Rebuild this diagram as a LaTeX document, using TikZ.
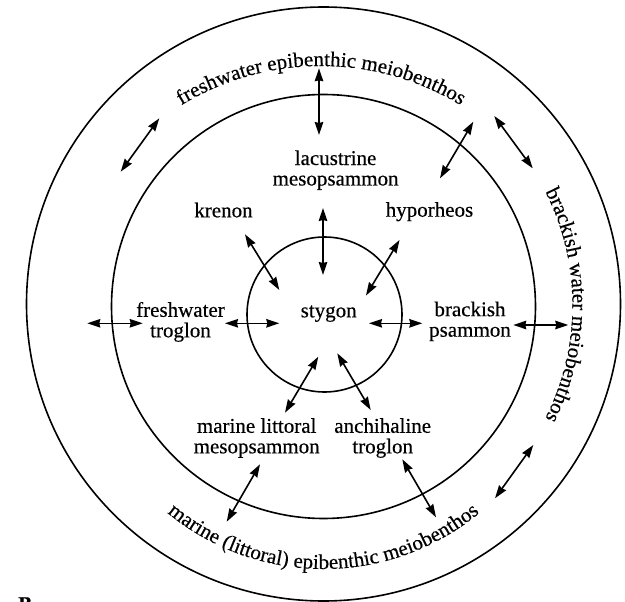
\documentclass[tikz,border=0pt]{standalone}
\usepackage{fontspec}
\setmainfont{Liberation Serif}[FakeBold=0.4]
\usetikzlibrary{arrows.meta,decorations.text,calc}
\begin{document}
\begin{tikzpicture}[x=1pt,y=1pt,
  ring/.style={line width=1.6pt},
  biarrow/.style={line width=1.6pt,
    {Stealth[length=13pt,width=8.5pt,inset=1pt]}-{Stealth[length=13pt,width=8.5pt,inset=1pt]}},
  lbl/.style={font=\fontsize{21}{20.5}\selectfont, align=center, anchor=base, inner sep=0pt},
  arctext/.style={decorate, decoration={text along path, text align=center,
    text={|\fontsize{21}{21}\selectfont|#1}}}
  ]
\useasboundingbox (0,0) rectangle (625,-602);
\fill[white] (0,0) rectangle (625,-602);

% rings
\coordinate (co) at (323.5,-304);
\coordinate (cm) at (323.5,-306.5);
\coordinate (ci) at (324.5,-314.5);
\draw[ring] (co) circle[radius=297];
\draw[ring] (cm) circle[radius=212];
\draw[ring] (ci) circle[radius=77.5];

% labels (base anchor = baseline of the last line)
\node[lbl] (lac) at (335.6,-185.5) {lacustrine\\mesopsammon};
\node[lbl] (kre) at (223.5,-217.3) {krenon};
\node[lbl] (hyp) at (429.5,-216.7) {hyporheos};
\node[lbl] (fwt) at (180.5,-337.3) {freshwater\\troglon};
\node[lbl] (sty) at (328.7,-317.3) {stygon};
\node[lbl] (brp) at (470,-336.7) {brackish\\psammon};
\node[lbl] (mlm) at (256.7,-453.3) {marine littoral\\mesopsammon};
\node[lbl] (ant) at (382.7,-453.3) {anchihaline\\troglon};
\node[font=\fontsize{21}{21}\selectfont\bfseries, anchor=base west, inner sep=0pt] (panel) at (18,-611) {B};

% curved ring texts
\path[arctext={freshwater epibenthic meiobenthos}]
  ($(321,-334)+(130:268)$) arc[start angle=130, end angle=50, radius=268];
\path[arctext={brackish water meiobenthos}]
  ($(323.5,-305)+(40:249)$) arc[start angle=40, end angle=-40, radius=249];
\path[arctext={marine (littoral) epibenthic meiobenthos}]
  ($(323.5,-324)+(220:245)$) arc[start angle=220, end angle=320, radius=245];

% arrow end points
\coordinate (t1) at (319,-68.3);   \coordinate (t2) at (319,-135);
\coordinate (l1) at (323,-208);    \coordinate (l2) at (323,-275);
\coordinate (k1) at (245,-234.3);  \coordinate (k2) at (279.3,-290);
\coordinate (h1) at (399.5,-240);  \coordinate (h2) at (366,-295.5);
\coordinate (fo1) at (87.3,-323.3); \coordinate (fo2) at (142.7,-323.3);
\coordinate (fs1) at (225,-323.3); \coordinate (fs2) at (279.3,-323.3);
\coordinate (bs1) at (369,-323.3); \coordinate (bs2) at (422.3,-323.3);
\coordinate (bo1) at (513.3,-325); \coordinate (bo2) at (568.3,-325);
\coordinate (ms1) at (318.3,-356.7); \coordinate (ms2) at (285,-412.7);
\coordinate (as1) at (337.3,-353.3); \coordinate (as2) at (370.7,-410);
\coordinate (mo1) at (260,-464.3); \coordinate (mo2) at (226.7,-521.7);
\coordinate (ao1) at (402.3,-459.3); \coordinate (ao2) at (436,-517.3);
\coordinate (r1) at (159.3,-118.3); \coordinate (r2) at (120.7,-171.7);
\coordinate (r3) at (473.3,-121.7); \coordinate (r4) at (440,-178.3);
\coordinate (r5) at (494.3,-116);  \coordinate (r6) at (532.7,-168.3);
\coordinate (r7) at (533.3,-445);  \coordinate (r8) at (495,-498.3);

% arrows
\foreach \a/\b in {t1/t2,l1/l2,k1/k2,h1/h2,fo1/fo2,fs1/fs2,bs1/bs2,bo1/bo2,
                   ms1/ms2,as1/as2,mo1/mo2,ao1/ao2,r1/r2,r3/r4,r5/r6,r7/r8}
  \draw[biarrow] (\a) -- (\b);
\end{tikzpicture}
\end{document}
